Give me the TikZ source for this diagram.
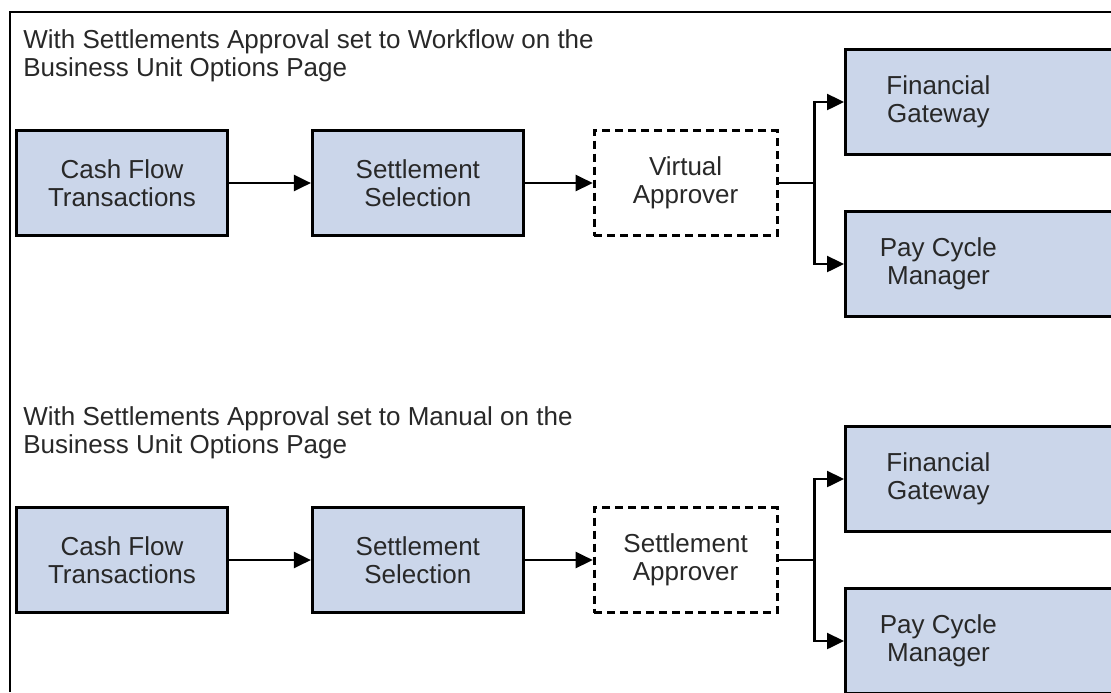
\documentclass[tikz,border=0pt]{standalone}
\usepackage{fontspec}
\setmainfont{Liberation Sans}
\usetikzlibrary{arrows.meta,positioning,calc}

\definecolor{boxblue}{RGB}{203,214,234}
\definecolor{inkgray}{RGB}{40,40,40}

% text of the boxes that run past the right margin
\newcommand{\cuttext}[1]{\parbox{85pt}{\centering #1}\hspace{70pt}}

\begin{document}
\begin{tikzpicture}[
  x=0.5pt, y=-0.5pt,
  node distance=41pt,
  every node/.style={font=\fontsize{13}{14.2}\selectfont,text=inkgray},
  box/.style={draw=black,line width=1.4pt,rectangle,fill=boxblue,align=center,minimum width=105.5pt,minimum height=52.5pt,inner sep=0pt},
  ghost/.style={draw=black,line width=1.4pt,dash pattern=on 4pt off 2.5pt,rectangle,fill=white,align=center,minimum width=91.5pt,minimum height=52.5pt,inner sep=0pt},
  cutbox/.style={box,minimum width=150pt,inner xsep=4pt,anchor=west},
  heading/.style={align=left,anchor=north west,inner sep=0pt},
  arrow/.style={-{Triangle[length=8.5pt,width=8pt]},line width=1.2pt}
]
  \useasboundingbox (0,0) rectangle (1111,692);
  \clip (0,0) rectangle (1111,692);
  \draw[line width=1.3pt] (10,692) -- (10,12) -- (1111,12);

  % workflow approval
  \node[heading] (head1) at (23,29) {With Settlements Approval set to Workflow on the\\Business Unit Options Page};
  \node[box] (cft1) at (122,183) {Cash Flow\\Transactions};
  \node[box,right=41pt of cft1] (ss1) {Settlement\\Selection};
  \node[ghost,right=34pt of ss1] (va1) {Virtual\\Approver};
  \node[cutbox] (fgw1) at (844,102) {\cuttext{Financial\\Gateway}};
  \node[cutbox] (pcm1) at (844,264) {\cuttext{Pay Cycle\\Manager}};
  \coordinate (fork1) at ($(va1.east)+(18pt,0)$);

  \draw[arrow] (cft1)--(ss1);
  \draw[arrow] (ss1)--(va1);
  \draw[line width=1.2pt] (va1.east)--(fork1);
  \draw[arrow] (fork1)|-(fgw1.west);
  \draw[arrow] (fork1)|-(pcm1.west);

  % manual approval
  \node[heading] (head2) at (23,406) {With Settlements Approval set to Manual on the\\Business Unit Options Page};
  \node[box] (cft2) at (122,560) {Cash Flow\\Transactions};
  \node[box,right=41pt of cft2] (ss2) {Settlement\\Selection};
  \node[ghost,right=34pt of ss2] (sa2) {Settlement\\Approver};
  \node[cutbox] (fgw2) at (844,479) {\cuttext{Financial\\Gateway}};
  \node[cutbox] (pcm2) at (844,641) {\cuttext{Pay Cycle\\Manager}};
  \coordinate (fork2) at ($(sa2.east)+(18pt,0)$);

  \draw[arrow] (cft2)--(ss2);
  \draw[arrow] (ss2)--(sa2);
  \draw[line width=1.2pt] (sa2.east)--(fork2);
  \draw[arrow] (fork2)|-(fgw2.west);
  \draw[arrow] (fork2)|-(pcm2.west);
\end{tikzpicture}
\end{document}
